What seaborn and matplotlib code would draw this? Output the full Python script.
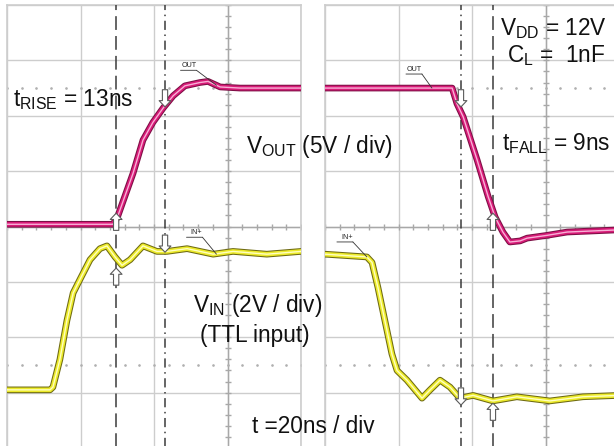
import numpy as np
import matplotlib
matplotlib.use('Agg')
import matplotlib.pyplot as plt
from matplotlib.transforms import offset_copy
import seaborn as sns

# scope settings
NS_PER_DIV = 20
OUT_V_PER_DIV = 5
IN_V_PER_DIV = 2
OUT_ZERO_DIV = 4   # ground level of the OUT channel (divisions from bottom)
IN_ZERO_DIV = 1    # ground level of the IN+ channel

# rising edge capture (left panel): time in ns, level in volts
rise_out_t = [0, 28.8, 30.0, 34.3, 37.0, 39.7, 42.5, 45.2, 48.4, 52.5, 54.7, 58.0, 63.4, 80]
rise_out_v = [0.2, 0.2, 0.8, 4.8, 7.8, 9.4, 10.7, 11.8, 12.7, 13.0, 13.1, 12.6, 12.5, 12.5]
rise_in_t = [0, 11.7, 12.5, 14.4, 16.3, 18.0, 19.9, 22.6, 25.3, 27.2, 29.4, 31.3, 33.5,
             37.0, 40.8, 43.5, 49.0, 56.1, 61.5, 70.7, 80]
rise_in_v = [0.1, 0.1, 0.2, 1.2, 2.6, 3.6, 4.1, 4.8, 5.2, 5.3, 4.9, 4.6, 4.8,
             5.3, 5.1, 5.1, 5.2, 5.0, 5.1, 5.0, 5.1]

# falling edge capture (right panel)
fall_out_t = [0, 34.6, 35.9, 37.6, 41.4, 44.4, 46.3, 48.4, 50.3, 53.1, 55.0, 60.4, 65.9, 80]
fall_out_v = [12.5, 12.5, 11.1, 9.9, 6.0, 2.7, 0.85, -0.5, -1.4, -1.3, -1.05, -0.8, -0.5, -0.3]
fall_in_t = [0, 11.4, 12.8, 14.4, 16.3, 18.2, 19.6, 22.3, 26.4, 28.6, 31.3, 34.0, 36.7,
             40.3, 45.7, 52.2, 61.2, 70.2, 80]
fall_in_v = [5.0, 4.9, 4.7, 3.8, 2.6, 1.4, 0.8, 0.45, -0.2, 0.1, 0.45, 0.2, -0.2,
             -0.1, -0.3, -0.15, -0.3, -0.15, -0.1]

# cursor positions (ns) and the levels the cursor arrows point at (V)
rise_cursors = [29.7, 43.0]
fall_cursors = [37.0, 45.7]
rise_arrows = [(29.7, 'out', 1.2, 'up'), (43.0, 'out', 10.8, 'down'),
               (29.7, 'in', 4.5, 'up'), (43.0, 'in', 5.07, 'down')]
fall_arrows = [(37.0, 'out', 10.8, 'down'), (45.7, 'out', 1.2, 'up'),
               (37.0, 'in', -0.45, 'down'), (45.7, 'in', -0.38, 'up')]

sns.set_style('white')
plt.rcParams['font.family'] = ['Liberation Sans', 'DejaVu Sans']
plt.rcParams['mathtext.fontset'] = 'custom'
plt.rcParams['mathtext.rm'] = 'Liberation Sans'
plt.rcParams['mathtext.it'] = 'Liberation Sans'
plt.rcParams['mathtext.default'] = 'regular'

W, H = 614, 446
fig = plt.figure(figsize=(W / 100, H / 100), dpi=100)


def fig_xy(x, y):
    return x / W, 1 - y / H


def to_div(v, ch):
    v = np.asarray(v, dtype=float)
    if ch == 'out':
        return OUT_ZERO_DIV + v / OUT_V_PER_DIV
    return IN_ZERO_DIV + v / IN_V_PER_DIV


GRID = '#cdcdcd'
AXC = '#a8a8a8'
MAG = ('#7d0f45', '#d81b78', '#f8b0d6')
YEL = ('#6e6a12', '#ecea2a', '#ffffc0')


def draw_trace(ax, t, v, ch, colors):
    y = to_div(v, ch)
    sns.lineplot(x=t, y=y, ax=ax, color=colors[0], lw=4.8, estimator=None, sort=False, zorder=5)
    sns.lineplot(x=t, y=y, ax=ax, color=colors[1], lw=3.3, estimator=None, sort=False, zorder=6)
    sns.lineplot(x=t, y=y, ax=ax, color=colors[2], lw=1.0, estimator=None, sort=False, zorder=7)


def setup_panel(ax):
    ax.set_xlim(0, 4 * NS_PER_DIV)
    ax.set_ylim(0, 8)
    ax.set_xticks(np.arange(0, 4 * NS_PER_DIV + 1, NS_PER_DIV))
    ax.set_yticks(np.arange(0, 9, 1))
    ax.grid(True, color=GRID, lw=1)
    ax.tick_params(length=0, labelbottom=False, labelleft=False)
    for s in ax.spines.values():
        s.set_color(GRID)
        s.set_linewidth(1.2)
    # centre axes with minor ticks
    ax.axhline(4, color=AXC, lw=1, zorder=2)
    ax.axvline(3 * NS_PER_DIV, color=AXC, lw=1, zorder=2)
    tx = np.arange(0, 4 * NS_PER_DIV + 0.1, NS_PER_DIV / 5)
    ax.plot(tx, np.full_like(tx, 4), ls='none', marker='|', ms=5, color=AXC, mew=1, zorder=2)
    ty = np.arange(0, 8.01, 0.2)
    ax.plot(np.full_like(ty, 3 * NS_PER_DIV), ty, ls='none', marker='_', ms=5, color=AXC, mew=1, zorder=2)
    # dotted reference rows
    for lvl in (1.5, 6.5):
        ax.plot(tx, np.full_like(tx, lvl), ls='none', marker='.', ms=1.8, color='#b0b0b0', zorder=2)


def draw_cursors(ax, xs, styles):
    for x, st in zip(xs, styles):
        ax.axvline(x, color='#3a3a3a', lw=1.1, dashes=st, zorder=4)


def draw_arrows(ax, arrows):
    for t, ch, lvl, d in arrows:
        tip = float(to_div(lvl, ch))
        tail = tip - 0.31 if d == 'up' else tip + 0.31
        ax.annotate('', xy=(t, tip), xytext=(t, tail),
                    arrowprops=dict(arrowstyle='simple,head_length=0.45,head_width=0.85,tail_width=0.38',
                                    fc='white', ec='#5a5a5a', lw=0.8, shrinkA=0, shrinkB=0),
                    zorder=9)


def tag(ax, text, t, v, ch, dx, dy):
    # small channel label, underlined, with a leader to the trace
    y = float(to_div(v, ch))
    ax.annotate(text, xy=(t, y), xytext=(dx, dy + 0.8), textcoords='offset points',
                fontsize=5.2, ha='right', va='bottom', color='#222', zorder=10)
    ax.annotate('', xy=(t, y), xytext=(dx, dy), textcoords='offset points',
                arrowprops=dict(arrowstyle='-', lw=0.6, color='#333', shrinkA=0, shrinkB=0), zorder=10)
    ax.annotate('', xy=(t, y), xycoords=offset_copy(ax.transData, fig=fig, x=dx - 11.5, y=dy, units='points'),
                xytext=(11.5, 0), textcoords='offset points',
                arrowprops=dict(arrowstyle='-', lw=0.6, color='#333', shrinkA=0, shrinkB=0), zorder=10)


ax_l = fig.add_axes([7 / W, -2 / H, 294 / W, 443 / H])
ax_r = fig.add_axes([325 / W, -2 / H, 294 / W, 443 / H])

LONG = (9, 4)
DASHDOT = (6, 3, 1, 3)

for ax in (ax_l, ax_r):
    setup_panel(ax)

draw_cursors(ax_l, rise_cursors, [LONG, DASHDOT])
draw_cursors(ax_r, fall_cursors, [DASHDOT, LONG])

draw_trace(ax_l, rise_out_t, rise_out_v, 'out', MAG)
draw_trace(ax_l, rise_in_t, rise_in_v, 'in', YEL)
draw_trace(ax_r, fall_out_t, fall_out_v, 'out', MAG)
draw_trace(ax_r, fall_in_t, fall_in_v, 'in', YEL)

draw_arrows(ax_l, rise_arrows)
draw_arrows(ax_r, fall_arrows)

tag(ax_l, 'OUT', 57.0, 12.75, 'out', -14.4, 10.8)
tag(ax_r, 'OUT', 29.1, 12.5, 'out', -7.2, 10.1)
tag(ax_l, 'IN+', 57.0, 5.0, 'in', -10.1, 12.2)
tag(ax_r, 'IN+', 11.4, 4.9, 'in', -10.1, 10.8)

texts = [
    ((13, 106), r'$t_{RISE}$ = 13ns'),
    ((246, 153), r'$V_{OUT}$ (5V / div)'),
    ((500, 35), r'$V_{DD}$ = 12V'),
    ((507, 62), r'$C_L$ =  1nF'),
    ((502, 150), r'$t_{FALL}$ = 9ns'),
    ((193, 312), r'$V_{IN}$ (2V / div)'),
    ((200, 342), '(TTL input)'),
    ((252, 433), 't =20ns / div'),
]
for (x, y), s in texts:
    fig.text(*fig_xy(x, y), s, fontsize=16.3, va='baseline', ha='left', color='#111')

fig.savefig('out.png', dpi=100)
